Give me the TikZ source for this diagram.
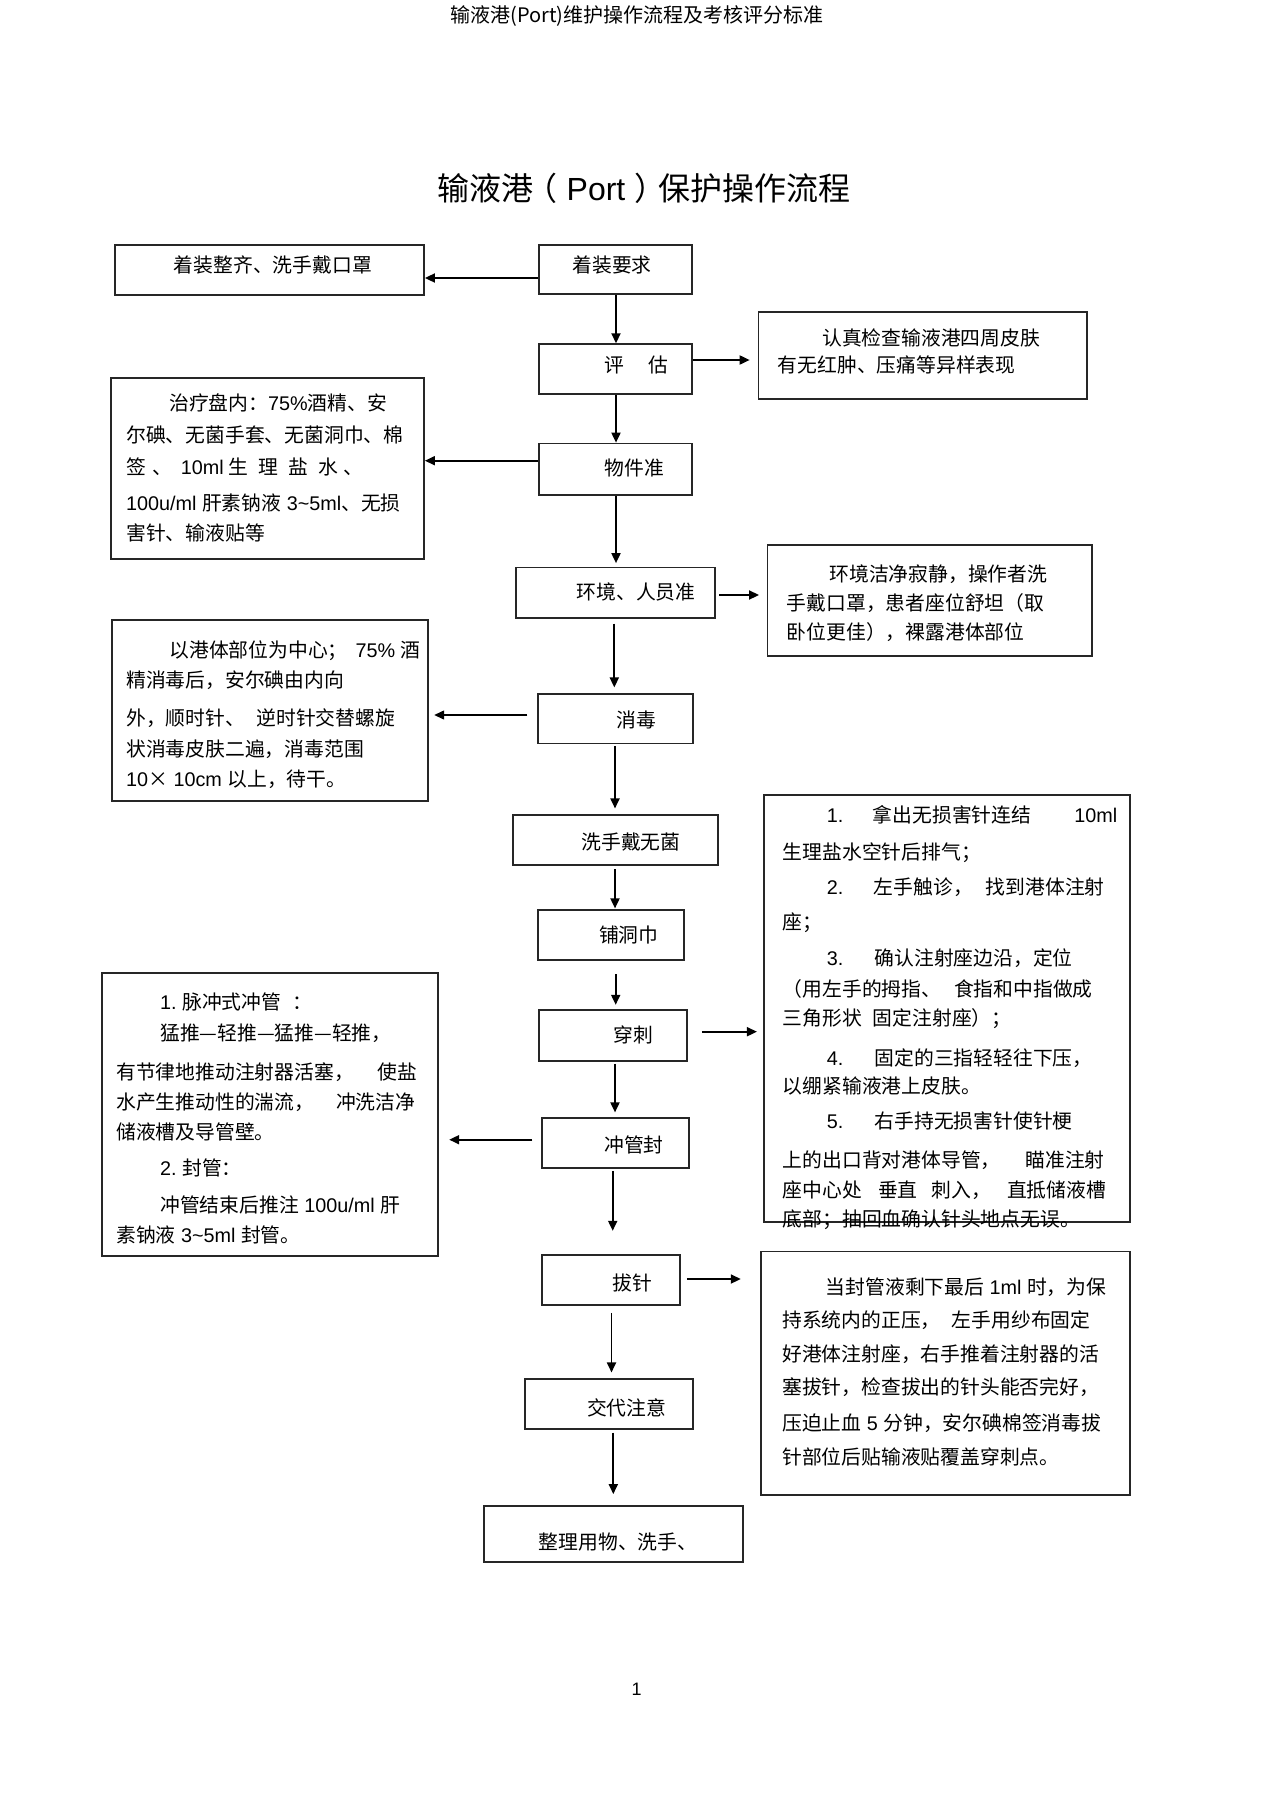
\documentclass[tikz,border=0pt]{standalone}
\usepackage{fontspec}
\setmainfont{Noto Sans CJK SC}
\newfontfamily\lat{Liberation Sans}
\usetikzlibrary{arrows.meta}
\newcommand\bodyfs{\fontsize{19.8pt}{24pt}\selectfont}
\begin{document}
\begin{tikzpicture}[x=1pt,y=-1pt,
  box/.style={draw=black!85, line width=1.8pt, inner sep=0pt, rectangle},
  arr/.style={draw=black, line width=1.8pt, -{Triangle[length=10pt,width=9pt]}},
  tl/.style={anchor=base west, inner sep=0pt, font=\bodyfs},
  lbl/.style={anchor=base, inner sep=0pt, font=\bodyfs}]
\useasboundingbox[fill=white] (0,0) rectangle (1274,1804);

% header and title
\node[anchor=base, inner sep=0pt, font=\fontsize{20pt}{22pt}\selectfont] (hdr) at (637,22.5) {输液港(Port)维护操作流程及考核评分标准};
\node[anchor=base, inner sep=0pt, font=\fontsize{32pt}{36pt}\selectfont] (title) at (644,200) {输液港\hspace{-8pt}（{\lat\ Port\ }）\hspace{-8pt}保护操作流程};

% boxes
\node[box, minimum width=309pt, minimum height=50pt] (A) at (269.5,270) {};
\node[box, minimum width=153pt, minimum height=49pt] (B) at (615.2,269.5) {};
\node[box, minimum width=153pt, minimum height=50pt] (C) at (615.2,369.2) {};
\node[box, minimum width=328.5pt, minimum height=87pt] (D) at (922.8,355.3) {};
\node[box, minimum width=153pt, minimum height=51.5pt] (E) at (615.2,469.3) {};
\node[box, minimum width=313pt, minimum height=181pt] (F) at (267.5,468.5) {};
\node[box, minimum width=199pt, minimum height=50.7pt] (G) at (615.2,592.9) {};
\node[box, minimum width=324.7pt, minimum height=110.5pt] (H) at (929.9,600.5) {};
\node[box, minimum width=155pt, minimum height=49.5pt] (I) at (615.2,718.8) {};
\node[box, minimum width=316.6pt, minimum height=180.7pt] (J) at (270,710.4) {};
\node[box, minimum width=205.6pt, minimum height=50.3pt] (K) at (615.5,840.2) {};
\node[box, minimum width=146.6pt, minimum height=50pt] (L) at (611,935) {};
\node[box, minimum width=148.3pt, minimum height=51pt] (M) at (613.2,1035.5) {};
\node[box, minimum width=365.9pt, minimum height=426.8pt] (N) at (946.8,1008.6) {};
\node[box, minimum width=146.7pt, minimum height=50pt] (O) at (615.7,1143.3) {};
\node[box, minimum width=336.6pt, minimum height=282.7pt] (P) at (270,1114.7) {};
\node[box, minimum width=137.7pt, minimum height=50pt] (Q) at (611.2,1280) {};
\node[box, minimum width=369pt, minimum height=243.5pt] (R) at (945.5,1373.3) {};
\node[box, minimum width=167.7pt, minimum height=49.7pt] (S) at (608.9,1404.2) {};
\node[box, minimum width=258.4pt, minimum height=56pt] (T) at (613.5,1533.7) {};

% main labels
\node[lbl] (At) at (272.8,272.2) {着装整齐、洗手戴口罩};
\node[lbl] (Bt) at (612,272.5) {着装要求};
\node[lbl] (Ct) at (636.5,372.5) {评\hspace{25pt}估};
\node[lbl] (Et) at (634.5,475.2) {物件准};
\node[lbl] (Gt) at (636,599.2) {环境、人员准};
\node[lbl] (It) at (636,727.5) {消毒};
\node[lbl] (Kt) at (631,849.2) {洗手戴无菌};
\node[lbl] (Lt) at (628.7,942.5) {铺洞巾};
\node[lbl] (Mt) at (633,1042.5) {穿刺};
\node[lbl] (Ot) at (634,1152.5) {冲管封};
\node[lbl] (Qt) at (632,1290.8) {拔针};
\node[lbl] (St) at (626.7,1415.8) {交代注意};
\node[lbl] (Tt) at (618,1549.2) {整理用物、洗手、};

% D text
\node[tl] (D1) at (822,345.8) {认真检查输液港四周皮肤};
\node[tl] (D2) at (777.6,372.5) {有无红肿、压痛等异样表现};

% F text
\node[tl] (F1) at (169,410.8) {治疗盘内：{\lat 75\%}酒精、安};
\node[tl] (F2) at (126,442.5) {尔碘、无菌手套、无菌洞巾、棉};
\node[tl] (F3) at (126,474.2) {签\hspace{6pt}、\hspace{9pt}{\lat 10ml}\hspace{5pt}生\hspace{10pt}理\hspace{10pt}盐\hspace{10pt}水\hspace{6pt}、};
\node[tl] (F4) at (126,510.8) {{\lat 100u/ml\ }肝素钠液{\lat\ 3\textasciitilde 5ml}、无损};
\node[tl] (F5) at (126,540.8) {害针、输液贴等};

% H text
\node[tl] (H1) at (829.3,581) {环境洁净寂静，操作者洗};
\node[tl] (H2) at (786.7,610) {手戴口罩，患者座位舒坦（取};
\node[tl] (H3) at (786.7,639.5) {卧位更佳），裸露港体部位};

% J text
\node[tl] (J1) at (169.3,657.5) {以港体部位为中心；\hspace{8pt}{\lat 75\%}\hspace{5pt}酒};
\node[tl] (J2) at (126,687.5) {精消毒后，安尔碘由内向};
\node[tl] (J3) at (126,725.8) {外，顺时针、\hspace{11.5pt}逆时针交替螺旋};
\node[tl] (J4) at (126,756.8) {状消毒皮肤二遍，消毒范围};
\node[tl] (J5) at (126,786.5) {{\lat 10}×{\lat\ 10cm\ }以上，待干。};

% N text
\node[tl] (N1a) at (826.6,822.5) {{\lat 1.}\hspace{29.6pt}拿出无损害针连结\hspace{43pt}{\lat 10ml}};
\node[tl] (N2) at (782.6,859.2) {生理盐水空针后排气；};
\node[tl] (N3) at (826.6,894.2) {{\lat 2.}\hspace{30.6pt}左手触诊，\hspace{13pt}找到港体注射};
\node[tl] (N4) at (782.6,929.2) {座；};
\node[tl] (N5) at (826.6,965.8) {{\lat 3.}\hspace{31.3pt}确认注射座边沿，定位};
\node[tl] (N6) at (782.6,996.8) {（用左手的拇指、\hspace{13pt}食指和中指做成};
\node[tl] (N7) at (782.6,1025.8) {三角形状\hspace{11pt}固定注射座）；};
\node[tl] (N8) at (826.6,1065.8) {{\lat 4.}\hspace{31.3pt}固定的三指轻轻往下压，};
\node[tl] (N9) at (782.6,1093.5) {以绷紧输液港上皮肤。};
\node[tl] (N10) at (826.6,1128.2) {{\lat 5.}\hspace{31.3pt}右手持无损害针使针梗};
\node[tl] (N11) at (782.6,1167.5) {上的出口背对港体导管，\hspace{25pt}瞄准注射};
\node[tl] (N12) at (782.6,1197.5) {座中心处\hspace{16pt}垂直\hspace{14pt}刺入，\hspace{16pt}直抵储液槽};
\node[tl] (N13) at (782.6,1226.8) {底部；抽回血确认针头地点无误。};

% P text
\node[tl] (P1) at (160,1009.2) {{\lat 1.\ }脉冲式冲管\hspace{11pt}：};
\node[tl] (P2) at (160,1040.2) {猛推—轻推—猛推—轻推，};
\node[tl] (P3) at (116,1079.2) {有节律地推动注射器活塞，\hspace{23.7pt}使盐};
\node[tl] (P4) at (116,1109.2) {水产生推动性的湍流，\hspace{22pt}冲洗洁净};
\node[tl] (P5) at (116,1139.2) {储液槽及导管壁。};
\node[tl] (P6) at (160,1175.8) {{\lat 2.\ }封管：};
\node[tl] (P7) at (160,1212.5) {冲管结束后推注{\lat\ 100u/ml\ }肝};
\node[tl] (P8) at (116,1242.5) {素钠液{\lat\ 3\textasciitilde 5ml\ }封管。};

% R text
\node[tl] (R1) at (825.6,1294.5) {当封管液剩下最后{\lat\ 1ml\ }时，为保};
\node[tl] (R2) at (782,1327.5) {持系统内的正压，\hspace{11.3pt}左手用纱布固定};
\node[tl] (R3) at (782,1361) {好港体注射座，右手推着注射器的活};
\node[tl] (R4) at (782,1394.5) {塞拔针，检查拔出的针头能否完好，};
\node[tl] (R5) at (782,1430.5) {压迫止血{\lat\ 5\ }分钟，安尔碘棉签消毒拔};
\node[tl] (R6) at (782,1464) {针部位后贴输液贴覆盖穿刺点。};

% page number
\node[anchor=base, inner sep=0pt, font=\fontsize{18pt}{20pt}\selectfont] (pg) at (636.7,1695.8) {\lat 1};

% helper coordinates
\coordinate (hBA) at (0,278);
\coordinate (hCD) at (0,360);
\coordinate (hEF) at (0,460.7);
\coordinate (hGH) at (0,595);
\coordinate (hIJ) at (0,715);
\coordinate (hMN) at (0,1031.7);
\coordinate (hOP) at (0,1139.7);
\coordinate (hQR) at (0,1279);
\coordinate (v616) at (616,0);
\coordinate (v614) at (614.3,0);
\coordinate (v615) at (615,0);
\coordinate (v6157) at (615.7,0);
\coordinate (v6127) at (612.7,0);
\coordinate (v6115) at (611.5,0);
\coordinate (v6133) at (613.3,0);

% connectors
\draw[arr] (B.west |- hBA) -- (A.east |- hBA);
\draw[arr] (B.south -| v616) -- (C.north -| v616);
\draw[arr, shorten >=8pt] (C.east |- hCD) -- (D.west |- hCD);
\draw[arr] (C.south -| v616) -- (E.north -| v616);
\draw[arr] (E.west |- hEF) -- (F.east |- hEF);
\draw[arr, shorten >=3.5pt] (E.south -| v616) -- (G.north -| v616);
\draw[arr, shorten <=3.5pt, shorten >=7.6pt] (G.east |- hGH) -- (H.west |- hGH);
\draw[arr, shorten <=4.5pt, shorten >=5.7pt] (G.south -| v614) -- (I.north -| v614);
\draw[arr, line width=1.3pt, shorten <=9.4pt, shorten >=5pt] (I.west |- hIJ) -- (J.east |- hIJ);
\draw[arr, shorten <=1.5pt, shorten >=5.7pt] (I.south -| v615) -- (K.north -| v615);
\draw[arr, shorten <=3pt, shorten >=0.7pt] (K.south -| v615) -- (L.north -| v615);
\draw[arr, shorten <=13.3pt, shorten >=4.3pt] (L.south -| v6157) -- (M.north -| v6157);
\draw[arr, shorten <=13.7pt, shorten >=6pt] (M.east |- hMN) -- (N.west |- hMN);
\draw[arr, shorten <=2pt, shorten >=5pt] (M.south -| v615) -- (O.north -| v615);
\draw[arr, shorten <=9pt, shorten >=10pt] (O.west |- hOP) -- (P.east |- hOP);
\draw[arr, shorten <=1.7pt, shorten >=23.3pt] (O.south -| v6127) -- (Q.north -| v6127);
\draw[arr, shorten <=6pt, shorten >=19.3pt] (Q.east |- hQR) -- (R.west |- hQR);
\draw[arr, shorten <=7pt, shorten >=6pt] (Q.south -| v6115) -- (S.north -| v6115);
\draw[arr, shorten <=2.7pt, shorten >=10.7pt] (S.south -| v6133) -- (T.north -| v6133);
\end{tikzpicture}
\end{document}
